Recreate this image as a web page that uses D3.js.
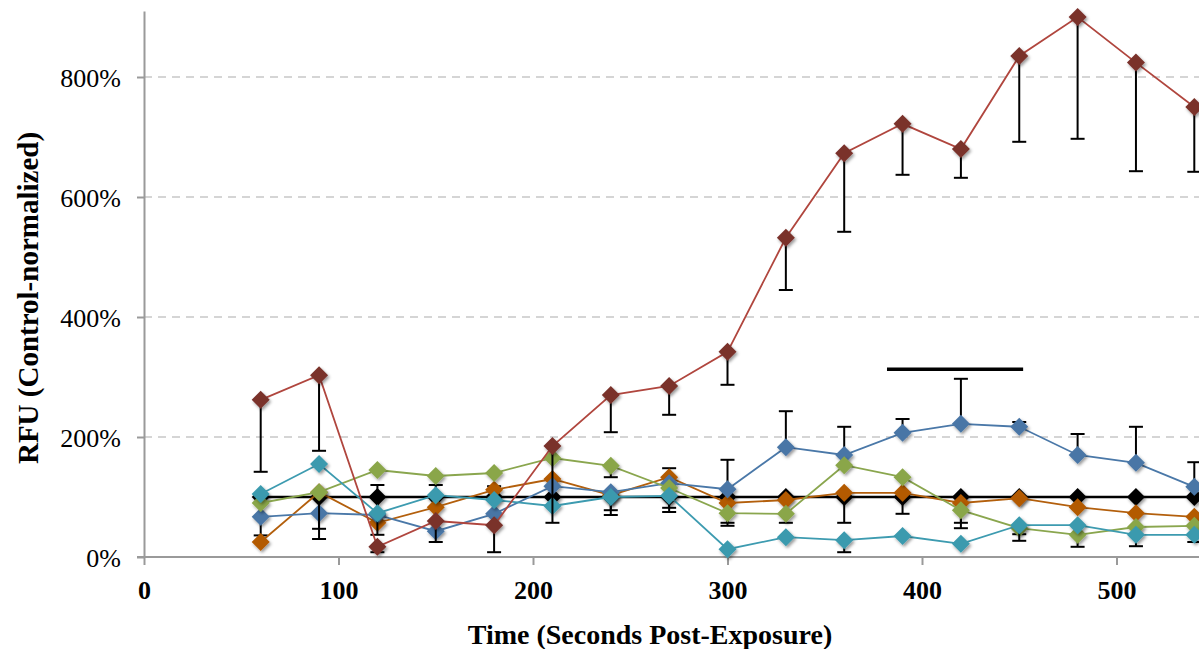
<!DOCTYPE html>
<html>
<head>
<meta charset="utf-8">
<script src="https://cdn.jsdelivr.net/npm/d3@7"></script>
<style>
  body { margin: 0; background: #fff; }
  svg { display: block; font-family: 'Liberation Serif', 'Times New Roman', serif; }
  .grid line { stroke: #c8c8c8; stroke-width: 1.5; stroke-dasharray: 8 6; }
  .axis path, .axis line { stroke: #9a9a9a; stroke-width: 2; }
  .axis text { fill: #000; font-family: 'Liberation Serif', 'Times New Roman', serif; }
</style>
</head>
<body>
<svg width="1199" height="649"></svg>
<script>
var svg = d3.select('svg'),
  width = +svg.attr('width'),
  height = +svg.attr('height');

// time points (seconds post-exposure)
var times = [60, 90, 120, 150, 180, 210, 240, 270, 300, 330, 360, 390, 420, 450, 480, 510, 540];

// values in % of control
var controlVals = [100, 100, 100, 100, 100, 100, 100, 100, 100, 100, 100, 100, 100, 100, 100, 100, 100];
var redVals     = [262, 303, 17, 60, 53, 185, 270, 285, 342, 532, 673, 722, 680, 835, 900, 824, 750];
var blueVals    = [67, 73, 70, 43, 72, 118, 108, 123, 113, 183, 170, 207, 222, 217, 170, 157, 117];
var greenVals   = [90, 108, 145, 135, 140, 165, 152, 115, 73, 72, 153, 133, 78, 48, 37, 50, 52];
var orangeVals  = [25, 108, 57, 83, 112, 130, 103, 133, 90, 95, 107, 107, 90, 98, 83, 73, 67];
var cyanVals    = [105, 155, 73, 103, 95, 85, 100, 102, 13, 33, 28, 35, 22, 53, 53, 37, 37];

// error bar lengths (one-sided)
var controlErr = [64, 70, 0, 0, 0, 0, 22, 18, 48, 0, 43, 28, 43, 0, 0, 0, 0];
var redErr     = [120, 126, 9, 35, 45, 128, 62, 48, 55, 87, 131, 85, 48, 143, 203, 181, 108];
var blueErr    = [0, 0, 0, 0, 0, 0, 0, 0, 49, 60, 47, 23, 75, 8, 35, 60, 41];
var greenErr   = [0, 61, 0, 0, 0, 0, 19, 0, 16, 15, 0, 0, 30, 10, 20, 0, 0];
var orangeErr  = [0, 0, 63, 37, 6, 0, 0, 15, 0, 0, 0, 0, 0, 0, 0, 0, 0];
var cyanErr    = [0, 0, 36, 0, 0, 0, 30, 27, 0, 0, 20, 0, 0, 26, 0, 19, 12];

// significance bar: [from s, to s, at %]
var sigBar = [382, 452, 313];

var yTicks = [0, 200, 400, 600, 800];
var xTicks = [0, 100, 200, 300, 400, 500];

// draw order matters (later on top)
var series = [
  { name: 'control', vals: controlVals, err: controlErr, dir: -1, line: '#000', marker: '#000', lw: 2.5 },
  { name: 'orange',  vals: orangeVals,  err: orangeErr,  dir:  1, line: '#b35f0c', marker: '#b35a00', lw: 1.8 },
  { name: 'blue',    vals: blueVals,    err: blueErr,    dir:  1, line: '#4a78a8', marker: '#4a76a6', lw: 1.8 },
  { name: 'green',   vals: greenVals,   err: greenErr,   dir: -1, line: '#8aa64e', marker: '#8aa64a', lw: 1.8 },
  { name: 'cyan',    vals: cyanVals,    err: cyanErr,    dir: -1, line: '#3d9bb0', marker: '#3a9aae', lw: 1.8 },
  { name: 'red',     vals: redVals,     err: redErr,     dir: -1, line: '#b0463e', marker: '#7a322c', lw: 1.8 }
];

var x = d3.scaleLinear().domain([0, 550]).range([144, 144 + 550 * 1.945]);
var y = d3.scaleLinear().domain([0, 910]).range([557, 11]);

var defs = svg.append('defs');
var f = defs.append('filter').attr('id', 'shadow')
  .attr('x', '-50%').attr('y', '-50%').attr('width', '200%').attr('height', '200%');
f.append('feDropShadow')
  .attr('dx', 1.5).attr('dy', 2).attr('stdDeviation', 1.5)
  .attr('flood-color', '#000').attr('flood-opacity', 0.4);

/* ---
GRID
--- */
svg.append('g').attr('class', 'grid')
  .selectAll('line')
  .data(yTicks.slice(1))
  .enter().append('line')
  .attr('x1', x(0)).attr('x2', width)
  .attr('y1', function(d) { return y(d); })
  .attr('y2', function(d) { return y(d); });

/* ---
AXES
--- */
var yAxis = svg.append('g').attr('class', 'axis')
  .attr('transform', 'translate(' + x(0) + ',0)')
  .call(d3.axisLeft(y).tickValues(yTicks).tickSize(7).tickSizeOuter(0).tickPadding(16)
    .tickFormat(function(d) { return d + '%'; }));
yAxis.attr('font-family', null).attr('font-size', 26);
yAxis.selectAll('text').style('font-size', '26px').attr('dy', '0.35em');

var xAxis = svg.append('g').attr('class', 'axis')
  .attr('transform', 'translate(0,' + y(0) + ')')
  .call(d3.axisBottom(x).tickValues(xTicks).tickSize(8).tickSizeOuter(0).tickPadding(16));
xAxis.attr('font-family', null).attr('font-size', 26);
xAxis.select('.domain').attr('d', 'M' + (x(0) - 7) + ',0H' + width);
xAxis.selectAll('text').style('font-size', '26px').style('font-weight', 'bold');

svg.append('text')
  .attr('x', 650).attr('y', 644)
  .attr('text-anchor', 'middle')
  .style('font-size', '28px').style('font-weight', 'bold')
  .text('Time (Seconds Post-Exposure)');

svg.append('text')
  .attr('transform', 'translate(38,' + 298 + ') rotate(-90)')
  .attr('text-anchor', 'middle')
  .style('font-size', '29px').style('font-weight', 'bold')
  .text('RFU (Control-normalized)');

/* ---
SERIES
--- */
var line = d3.line()
  .x(function(d) { return x(d.t); })
  .y(function(d) { return y(d.v); });

var diamond = 'M0,-9L9,0L0,9L-9,0Z';

series.forEach(function(s) {
  var pts = times.map(function(t, i) {
    return { t: t, v: s.vals[i], e: s.err[i] };
  });
  var g = svg.append('g').attr('class', 'series ' + s.name);

  // error bars
  var eb = g.selectAll('.err')
    .data(pts.filter(function(d) { return d.e > 0; }))
    .enter().append('g').attr('class', 'err');
  eb.append('line')
    .attr('x1', function(d) { return x(d.t); })
    .attr('x2', function(d) { return x(d.t); })
    .attr('y1', function(d) { return y(d.v); })
    .attr('y2', function(d) { return y(d.v + s.dir * d.e); })
    .attr('stroke', '#000').attr('stroke-width', 2);
  eb.append('line')
    .attr('x1', function(d) { return x(d.t) - 7; })
    .attr('x2', function(d) { return x(d.t) + 7; })
    .attr('y1', function(d) { return y(d.v + s.dir * d.e); })
    .attr('y2', function(d) { return y(d.v + s.dir * d.e); })
    .attr('stroke', '#000').attr('stroke-width', 2);

  g.append('path')
    .datum(pts)
    .attr('d', line)
    .attr('fill', 'none')
    .attr('stroke', s.line)
    .attr('stroke-width', s.lw);

  g.selectAll('.mk')
    .data(pts)
    .enter().append('path')
    .attr('class', 'mk')
    .attr('d', diamond)
    .attr('transform', function(d) { return 'translate(' + x(d.t) + ',' + y(d.v) + ')'; })
    .attr('fill', s.marker)
    .attr('filter', 'url(#shadow)');
});

// significance bar
svg.append('line')
  .attr('x1', x(sigBar[0])).attr('x2', x(sigBar[1]))
  .attr('y1', y(sigBar[2])).attr('y2', y(sigBar[2]))
  .attr('stroke', '#000').attr('stroke-width', 3.5);
</script>
</body>
</html>
